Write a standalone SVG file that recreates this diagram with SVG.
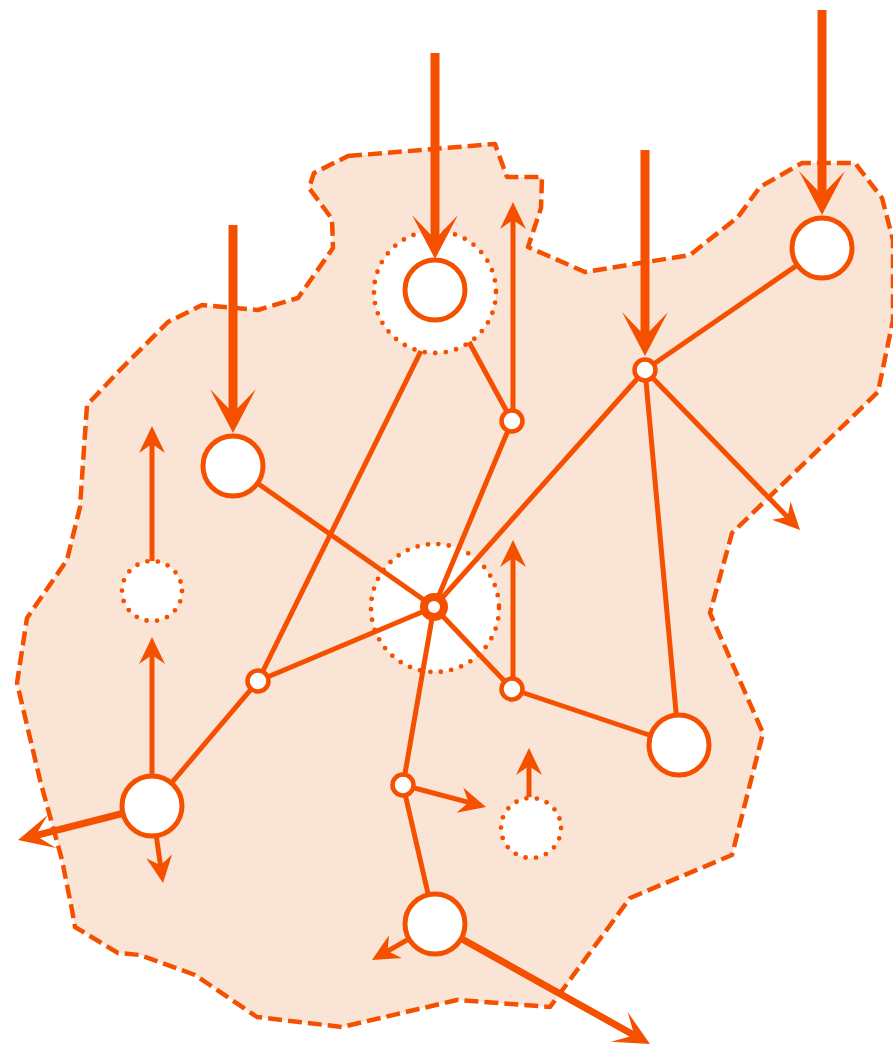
<svg xmlns="http://www.w3.org/2000/svg" width="893" height="1044" viewBox="0 0 893 1044">
<style>
.blob{fill:#fae4d6;stroke:#f55000;stroke-width:4.5;stroke-dasharray:14 6;stroke-linejoin:round}
.ring{fill:#fff;stroke:#f55000;stroke-width:4.8;stroke-linecap:round}
.e{stroke:#f55000;stroke-width:5;fill:none}
.n{fill:#fff;stroke:#f55000;stroke-width:5}
.s{fill:#fff;stroke:#f55000;stroke-width:4.5}
.at{stroke:#f55000;stroke-width:5;fill:none;marker-end:url(#mt)}
.am{stroke:#f55000;stroke-width:7;fill:none;marker-end:url(#mm)}
.ak{stroke:#f55000;stroke-width:9;fill:none;marker-end:url(#mk)}
</style>
<defs>
<marker id="mt" markerUnits="userSpaceOnUse" orient="auto" refX="0" refY="0" markerWidth="60" markerHeight="60" viewBox="-30 -30 60 60" overflow="visible"><path d="M15,0 L-12,-13 L-3,0 L-12,13 Z" fill="#f55000"/></marker>
<marker id="mm" markerUnits="userSpaceOnUse" orient="auto" refX="0" refY="0" markerWidth="80" markerHeight="80" viewBox="-40 -40 80 80" overflow="visible"><path d="M16,0 L-19,-17 L-2,0 L-19,17 Z" fill="#f55000"/></marker>
<marker id="mk" markerUnits="userSpaceOnUse" orient="auto" refX="0" refY="0" markerWidth="100" markerHeight="100" viewBox="-50 -50 100 100" overflow="visible"><path d="M16,0 L-28,-23 L-4,0 L-28,23 Z" fill="#f55000"/></marker>
</defs>
<g id="region">
<path class="blob" d="M348,156 L495,144 L507,177 L542,177 L541,208 L528,247 L585,272 L690,255 L738,217 L760,187 L802,163 L855,163 L882,198 L893,240 L893,320 L878,392 L732,533 L710,613 L763,733 L732,855 L630,898 L550,1007 L457,1000 L342,1027 L257,1017 L195,975 L140,955 L118,953 L75,927 L72,910 L62,860 L40,780 L17,683 L27,618 L67,560 L80,507 L87,405 L120,370 L168,322 L202,305 L258,310 L298,298 L333,248 L332,219 L309,188 L314,173 Z"/>
</g>
<g id="rings">
<circle id="ring-top" class="ring" cx="435" cy="292" r="61" stroke-dasharray="0 10.6"/>
<circle id="ring-center" class="ring" cx="435" cy="608" r="64" stroke-dasharray="0 10.5"/>
<circle id="ring-left" class="ring" cx="152" cy="591" r="30" stroke-dasharray="0 10.5"/>
<circle id="ring-bottom" class="ring" cx="531" cy="828" r="30" stroke-dasharray="0 10.5"/>
</g>
<g id="connectors">
<line class="e" x1="822" y1="248" x2="645" y2="370"/>
<line class="e" x1="645" y1="370" x2="434" y2="607"/>
<line class="e" x1="645" y1="370" x2="679" y2="745"/>
<line class="e" x1="421" y1="351" x2="258" y2="681"/>
<line class="e" x1="469" y1="342" x2="512" y2="421"/>
<line class="e" x1="512" y1="421" x2="434" y2="607"/>
<line class="e" x1="233" y1="466" x2="434" y2="607"/>
<line class="e" x1="258" y1="681" x2="434" y2="607"/>
<line class="e" x1="258" y1="681" x2="152" y2="806"/>
<line class="e" x1="434" y1="607" x2="512" y2="689"/>
<line class="e" x1="512" y1="689" x2="679" y2="745"/>
<line class="e" x1="434" y1="607" x2="403" y2="785"/>
<line class="e" x1="403" y1="785" x2="435" y2="924"/>
<line class="at" x1="645" y1="370" x2="789.6" y2="519.2"/>
<line class="at" x1="513" y1="410" x2="513" y2="217"/>
<line class="at" x1="513" y1="678" x2="513" y2="555"/>
<line class="at" x1="152" y1="561" x2="152" y2="441"/>
<line class="at" x1="152" y1="775" x2="152" y2="652"/>
<line class="at" x1="152" y1="806" x2="160.9" y2="868.2"/>
<line class="at" x1="403" y1="785" x2="471.5" y2="803.2"/>
<line class="at" x1="435" y1="924" x2="385" y2="952.6"/>
<line class="at" x1="529" y1="797" x2="529" y2="763"/>
<line class="am" x1="152" y1="806" x2="33.5" y2="836.1"/>
<line class="am" x1="435" y1="924" x2="636" y2="1036.2"/>
</g>
<g id="node-top"><circle class="n" cx="435" cy="290" r="30"/></g>
<g id="node-topright"><circle class="n" cx="822" cy="248" r="30"/></g>
<g id="node-hub-right"><circle class="s" cx="645" cy="370" r="10.5"/></g>
<g id="node-small-upper"><circle class="s" cx="512" cy="421" r="10.5"/></g>
<g id="node-left"><circle class="n" cx="233" cy="466" r="30"/></g>
<g id="node-center"><circle fill="#fff" stroke="#f55000" stroke-width="8" cx="434" cy="607" r="10"/></g>
<g id="node-small-left"><circle class="s" cx="258" cy="681" r="10.5"/></g>
<g id="node-small-right"><circle class="s" cx="512" cy="689" r="10.5"/></g>
<g id="node-right"><circle class="n" cx="679" cy="745" r="30"/></g>
<g id="node-bottomleft"><circle class="n" cx="152" cy="806" r="30"/></g>
<g id="node-small-bottom"><circle class="s" cx="403" cy="785" r="10.5"/></g>
<g id="node-bottom"><circle class="n" cx="435" cy="924" r="30"/></g>
<g id="inputs">
<line class="ak" x1="233" y1="225" x2="233" y2="417"/>
<line class="ak" x1="435" y1="53" x2="435" y2="243"/>
<line class="ak" x1="645" y1="150" x2="645" y2="340"/>
<line class="ak" x1="822" y1="10" x2="822" y2="199"/>
</g>
</svg>
